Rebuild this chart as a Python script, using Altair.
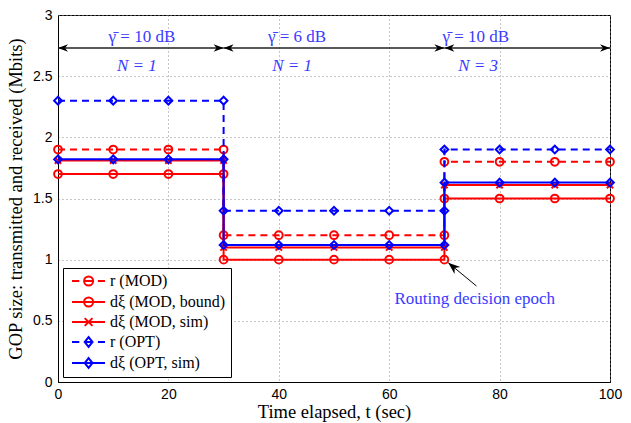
import altair as alt
import pandas as pd

# ---------------- data ----------------
times = [0, 10, 20, 30, 30, 40, 50, 60, 70, 70, 80, 90, 100]
segment_of_point = [0, 0, 0, 0, 1, 1, 1, 1, 1, 2, 2, 2, 2]

series_names = ["r (MOD)", "dξ (MOD, bound)", "dξ (MOD, sim)", "r (OPT)", "dξ (OPT, sim)"]
r_mod = [1.9, 1.2, 1.8]
d_mod_bound = [1.7, 1.0, 1.5]
d_mod_sim = [1.81, 1.10, 1.61]
r_opt = [2.3, 1.4, 1.9]
d_opt_sim = [1.82, 1.12, 1.63]
series_levels = [r_mod, d_mod_bound, d_mod_sim, r_opt, d_opt_sim]

series_colors = ["#ff0000", "#ff0000", "#ff0000", "#0000ff", "#0000ff"]
series_dashed = [True, False, False, True, False]
series_shapes = ["circle", "circle", "M-1,-1L1,1M-1,1L1,-1", "diamond", "diamond"]
series_sizes = [60, 60, 40, 60, 60]

seg_start = [0, 30, 70]
seg_end = [30, 70, 100]
arrow_level = 2.73
gamma_labels = ["γ̄ = 10 dB", "γ̄ = 6 dB", "γ̄ = 10 dB"]
gamma_x = [15.2, 43.3, 75.7]
gamma_y = [2.82, 2.82, 2.82]
n_labels = ["N = 1", "N = 1", "N = 3"]
n_x = [14.3, 42.4, 76.1]
n_y = [2.58, 2.58, 2.58]

note_text = ["Routing decision epoch"]
note_x = [75.5]
note_y = [0.68]
note_tail_x = [75.8]
note_tail_y = [0.785]
note_tip_x = [70.7]
note_tip_y = [0.975]

x_ticks = [0, 20, 40, 60, 80, 100]
y_ticks = [0, 0.5, 1, 1.5, 2, 2.5, 3]

# ---------------- tables ----------------
rows = []
for name, lv in zip(series_names, series_levels):
    for i, (t, s) in enumerate(zip(times, segment_of_point)):
        rows.append({"series": name, "t": t, "v": lv[s], "order": i})
df = pd.DataFrame(rows)

segs = pd.DataFrame({"t": seg_start, "t2": seg_end, "v": [arrow_level] * 3})
gam = pd.DataFrame({"t": gamma_x, "v": gamma_y, "label": gamma_labels})
nn = pd.DataFrame({"t": n_x, "v": n_y, "label": n_labels})
note = pd.DataFrame({"t": note_x, "v": note_y, "label": note_text,
                     "tx": note_tail_x, "ty": note_tail_y,
                     "hx": note_tip_x, "hy": note_tip_y})

SERIF = "Liberation Serif"
SANS = "Liberation Sans"

XS = alt.Scale(domain=[0, 100], nice=False)
YS = alt.Scale(domain=[0, 3], nice=False)
xenc = alt.X("t:Q", scale=XS, axis=alt.Axis(values=x_ticks, title="Time elapsed, t (sec)"))
yenc = alt.Y("v:Q", scale=YS,
             axis=alt.Axis(values=y_ticks, format="~g",
                           title="GOP size: transmitted and received (Mbits)"))

# ---------------- legend symbol paths (unit = 6 px) ----------------
P_dash_circle = ("M-0.67,0L0.55,0M1.35,0L2.85,0M3.65,0L4.83,0"
                 "M2.85,0A0.75,0.75,0,1,0,1.35,0A0.75,0.75,0,1,0,2.85,0")
P_solid_circle = ("M-0.67,0L4.83,0"
                  "M2.85,0A0.75,0.75,0,1,0,1.35,0A0.75,0.75,0,1,0,2.85,0")
P_solid_x = "M-0.67,0L4.83,0M1.45,-0.65L2.75,0.65M1.45,0.65L2.75,-0.65"
P_dash_diamond = ("M-0.67,0L0.55,0M1.35,0L2.85,0M3.65,0L4.83,0"
                  "M2.1,-0.8L2.75,0L2.1,0.8L1.45,0Z")
P_solid_diamond = "M-0.67,0L4.83,0M2.1,-0.8L2.75,0L2.1,0.8L1.45,0Z"
legend_paths = [P_dash_circle, P_solid_circle, P_solid_x, P_dash_diamond, P_solid_diamond]

legend = alt.Legend(
    title=None, orient="none", legendX=5, legendY=253,
    fillColor="white", strokeColor="black", padding=5,
    labelFont=SERIF, labelFontSize=16, labelColor="black",
    symbolSize=144, labelOffset=26, rowPadding=3,
    symbolStrokeWidth=2, symbolOpacity=1, symbolFillColor="transparent",
)

# legend-only layer: no rows drawn, scales carry the full domain
legend_layer = alt.Chart(df).transform_filter(alt.datum.series == "__none__").mark_point(
    filled=False, strokeWidth=2, opacity=1).encode(
    x=xenc, y=yenc,
    color=alt.Color("series:N", scale=alt.Scale(domain=series_names, range=series_colors),
                    legend=legend),
    shape=alt.Shape("series:N", scale=alt.Scale(domain=series_names, range=legend_paths),
                    legend=legend),
)

layers = []
for k, (name, col, dashed, shp, sz) in enumerate(
        zip(series_names, series_colors, series_dashed, series_shapes, series_sizes)):
    base = alt.Chart(df).transform_filter(alt.datum.series == name)
    line_kwargs = dict(strokeWidth=2, color=col)
    if dashed:
        line_kwargs["strokeDash"] = [7, 5]
    line = base.mark_line(**line_kwargs).encode(x=xenc, y=yenc, order="order:Q")
    pts = base.mark_point(shape=shp, filled=False, color=col, strokeWidth=2,
                          size=sz, opacity=1).encode(x=xenc, y=yenc)
    layers += [line, pts]

# top arrows
arrow_rule = alt.Chart(segs).mark_rule(color="#222222", strokeWidth=1.5).encode(
    x=xenc, x2="t2:Q", y=yenc)
head_right = "M0,0L-2,-0.75L-1.4,0L-2,0.75Z"
head_left = "M0,0L2,-0.75L1.4,0L2,0.75Z"
arrow_r = alt.Chart(segs).mark_point(shape=head_right, filled=True, color="black",
                                     size=100, opacity=1).encode(
    x=alt.X("t2:Q", scale=XS), y=yenc)
arrow_l = alt.Chart(segs).mark_point(shape=head_left, filled=True, color="black",
                                     size=100, opacity=1).encode(x=xenc, y=yenc)

gam_text = alt.Chart(gam).mark_text(font=SERIF, fontSize=17, color="#3a3aff").encode(
    x=xenc, y=yenc, text="label:N")
n_text = alt.Chart(nn).mark_text(font=SERIF, fontSize=17, color="#3a3aff",
                                 fontStyle="italic").encode(x=xenc, y=yenc, text="label:N")

note_text_layer = alt.Chart(note).mark_text(font=SERIF, fontSize=17, color="#3a3aff").encode(
    x=xenc, y=yenc, text="label:N")
note_rule = alt.Chart(note).mark_rule(color="black", strokeWidth=1).encode(
    x=alt.X("tx:Q", scale=XS), y=alt.Y("ty:Q", scale=YS), x2="hx:Q", y2="hy:Q")
note_head = alt.Chart(note).mark_point(shape=head_right, filled=True, color="black",
                                       size=144, angle=220, opacity=1).encode(
    x=alt.X("hx:Q", scale=XS), y=alt.Y("hy:Q", scale=YS))

chart = alt.layer(
    arrow_rule, arrow_l, arrow_r, gam_text, n_text, note_rule, note_head, note_text_layer,
    *layers, legend_layer,
).properties(
    width=552, height=367, autosize="none",
    padding={"left": 58, "top": 15, "right": 21, "bottom": 41},
).configure_view(
    stroke="black", strokeWidth=1,
).configure_axis(
    labelFont=SANS, labelFontSize=14, labelColor="black", labelFlush=False,
    titleFont=SERIF, titleFontSize=18.5, titleFontWeight="normal", titleColor="black",
    domainColor="black", ticks=False, grid=True, gridColor="#8a8a8a",
    gridDash=[1, 3], gridWidth=1, labelPadding=5,
).configure_axisX(
    titlePadding=1,
).configure_axisY(
    titlePadding=7, labelPadding=6,
).configure_legend(
    labelFont=SERIF, labelFontSize=16,
)

chart.save("out.html", embed_options={"renderer": "svg", "actions": False})
